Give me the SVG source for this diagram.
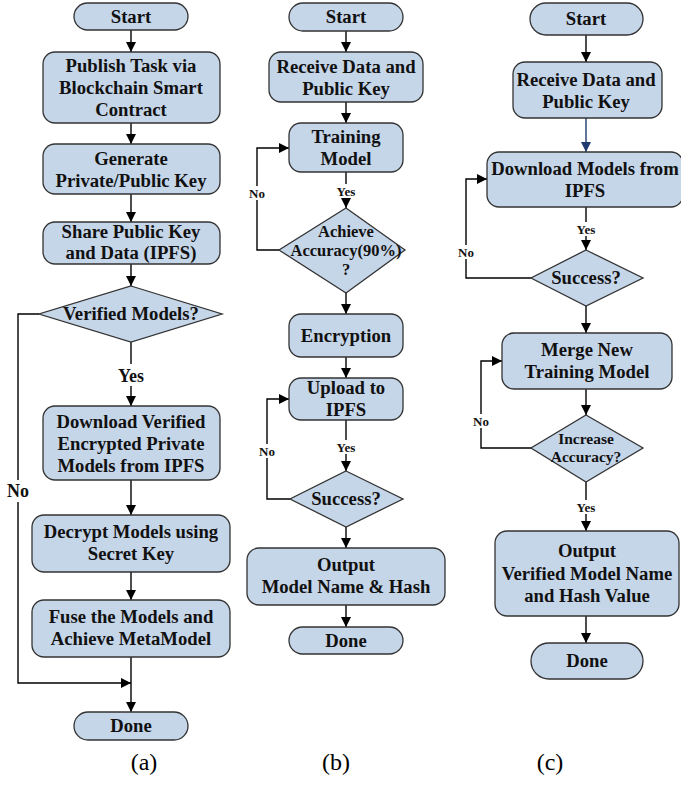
<svg xmlns="http://www.w3.org/2000/svg" width="681" height="785" viewBox="0 0 681 785">
<defs>
<marker id="ah" viewBox="0 0 10 10" refX="10" refY="5" markerWidth="10" markerHeight="10" markerUnits="userSpaceOnUse" orient="auto">
<path d="M0,0 L10,5 L0,10 z" fill="#000"/>
</marker>
<marker id="ahb" viewBox="0 0 10 10" refX="10" refY="5" markerWidth="10" markerHeight="10" markerUnits="userSpaceOnUse" orient="auto">
<path d="M0,0 L10,5 L0,10 z" fill="#1F3A6E"/>
</marker>
<style>
.n{fill:#C6D6E9;stroke:#333;stroke-width:1.3}
.t{font-family:"Liberation Serif","Times New Roman",serif;font-weight:bold;font-size:18.7px;fill:#111;text-anchor:middle}
.d{font-size:16.5px}
.s{font-size:13px}
.m{font-size:18px}
.c{fill:none;stroke:#000;stroke-width:1.4;marker-end:url(#ah)}
.cap{font-family:"Liberation Serif","Times New Roman",serif;font-size:24px;fill:#000;text-anchor:middle}
</style>
</defs>
<rect width="681" height="785" fill="#fff"/>

<g id="connectors">
<!-- (a) -->
<path class="c" d="M131,30 V52"/>
<path class="c" d="M131,123 V144"/>
<path class="c" d="M131,194 V222"/>
<path class="c" d="M131,264 V286"/>
<path class="c" d="M131,342 V406"/>
<path class="c" d="M131,480 V515"/>
<path class="c" d="M131,572 V600"/>
<path class="c" d="M131,657 V712"/>
<path class="c" d="M39,314 H18 V683 H131"/>
<!-- (b) -->
<path class="c" d="M346,31 V52"/>
<path class="c" d="M346,102 V123"/>
<path class="c" d="M346,172 V208"/>
<path class="c" d="M279,250 H257 V148 H289"/>
<path class="c" d="M346,293 V314"/>
<path class="c" d="M346,357 V378"/>
<path class="c" d="M346,420 V471"/>
<path class="c" d="M290,499 H267 V399 H289"/>
<path class="c" d="M346,527 V548"/>
<path class="c" d="M346,605 V627"/>
<!-- (c) -->
<path class="c" d="M586,35 V62"/>
<path fill="none" stroke="#1F3A6E" stroke-width="1.4" marker-end="url(#ahb)" d="M586,118 V152"/>
<path class="c" d="M586,207 V250"/>
<path class="c" d="M531,278 H466 V179 H487"/>
<path class="c" d="M586,306 V333"/>
<path class="c" d="M586,389 V415"/>
<path class="c" d="M531,448 H481 V361 H502"/>
<path class="c" d="M586,482 V531"/>
<path class="c" d="M586,616 V643"/>
</g>

<g id="labels">
<rect x="115" y="364" width="33" height="22" fill="#fff"/>
<text class="t m" x="131" y="382">Yes</text>
<rect x="5" y="480" width="27" height="22" fill="#fff"/>
<text class="t m" x="18" y="497">No</text>
<rect x="333" y="184" width="26" height="14" fill="#fff"/>
<text class="t s" x="346" y="196">Yes</text>
<rect x="247" y="186" width="21" height="14" fill="#fff"/>
<text class="t s" x="257" y="198">No</text>
<rect x="333" y="440" width="26" height="14" fill="#fff"/>
<text class="t s" x="346" y="452">Yes</text>
<rect x="257" y="444" width="21" height="14" fill="#fff"/>
<text class="t s" x="267" y="456">No</text>
<rect x="573" y="222" width="26" height="14" fill="#fff"/>
<text class="t s" x="586" y="234">Yes</text>
<rect x="456" y="245" width="21" height="14" fill="#fff"/>
<text class="t s" x="466" y="257">No</text>
<rect x="471" y="414" width="21" height="14" fill="#fff"/>
<text class="t s" x="481" y="426">No</text>
<rect x="573" y="500" width="26" height="14" fill="#fff"/>
<text class="t s" x="586" y="512">Yes</text>
</g>

<!-- column (a) -->
<g id="a-start"><rect class="n" x="74" y="3" width="114" height="27" rx="13.5"/><text class="t" x="131" y="23">Start</text></g>
<g id="a-publish"><rect class="n" x="43" y="52" width="177" height="71" rx="12"/><text class="t" x="131" y="72">Publish Task via</text><text class="t" x="131" y="94">Blockchain Smart</text><text class="t" x="131" y="116">Contract</text></g>
<g id="a-generate"><rect class="n" x="43" y="144" width="177" height="50" rx="12"/><text class="t" x="131" y="165">Generate</text><text class="t" x="131" y="187">Private/Public Key</text></g>
<g id="a-share"><rect class="n" x="43" y="222" width="177" height="42" rx="12"/><text class="t" x="131" y="238">Share Public Key</text><text class="t" x="131" y="259">and Data (IPFS)</text></g>
<g id="a-verified"><polygon class="n" points="131,286 222,314 131,342 39,314"/><text class="t" x="131" y="320">Verified Models?</text></g>
<g id="a-download"><rect class="n" x="43" y="406" width="177" height="74" rx="12"/><text class="t" x="131" y="428">Download Verified</text><text class="t" x="131" y="450">Encrypted Private</text><text class="t" x="131" y="472">Models from IPFS</text></g>
<g id="a-decrypt"><rect class="n" x="32" y="515" width="198" height="57" rx="12"/><text class="t" x="131" y="538">Decrypt Models using</text><text class="t" x="131" y="560">Secret Key</text></g>
<g id="a-fuse"><rect class="n" x="32" y="600" width="198" height="57" rx="12"/><text class="t" x="131" y="623">Fuse the Models and</text><text class="t" x="131" y="645">Achieve MetaModel</text></g>
<g id="a-done"><rect class="n" x="74" y="712" width="114" height="28" rx="14"/><text class="t" x="131" y="732">Done</text></g>

<!-- column (b) -->
<g id="b-start"><rect class="n" x="289" y="3" width="114" height="28" rx="14"/><text class="t" x="346" y="23">Start</text></g>
<g id="b-receive"><rect class="n" x="269" y="52" width="154" height="50" rx="12"/><text class="t" x="346" y="73">Receive Data and</text><text class="t" x="346" y="95">Public Key</text></g>
<g id="b-training"><rect class="n" x="289" y="123" width="114" height="49" rx="12"/><text class="t" x="346" y="143">Training</text><text class="t" x="346" y="165">Model</text></g>
<g id="b-achieve"><polygon class="n" points="346,208 405,250 346,293 279,250"/><text class="t d" x="346" y="237">Achieve</text><text class="t d" x="346" y="256">Accuracy(90%)</text><text class="t d" x="346" y="275">?</text></g>
<g id="b-encryption"><rect class="n" x="289" y="314" width="114" height="43" rx="12"/><text class="t" x="346" y="342">Encryption</text></g>
<g id="b-upload"><rect class="n" x="289" y="378" width="114" height="42" rx="12"/><text class="t" x="346" y="394">Upload to</text><text class="t" x="346" y="416">IPFS</text></g>
<g id="b-success"><polygon class="n" points="346,471 403,499 346,527 290,499"/><text class="t" x="346" y="505">Success?</text></g>
<g id="b-output"><rect class="n" x="247" y="548" width="198" height="57" rx="12"/><text class="t" x="346" y="571">Output</text><text class="t" x="346" y="593">Model Name &amp; Hash</text></g>
<g id="b-done"><rect class="n" x="289" y="627" width="114" height="27" rx="13.5"/><text class="t" x="346" y="647">Done</text></g>

<!-- column (c) -->
<g id="c-start"><rect class="n" x="530" y="3" width="113" height="32" rx="16"/><text class="t" x="586" y="25">Start</text></g>
<g id="c-receive"><rect class="n" x="513" y="62" width="149" height="56" rx="12"/><text class="t" x="586" y="86">Receive Data and</text><text class="t" x="586" y="108">Public Key</text></g>
<g id="c-download"><rect class="n" x="487" y="152" width="196" height="55" rx="12"/><text class="t" x="585" y="175">Download Models from</text><text class="t" x="585" y="197">IPFS</text></g>
<g id="c-success"><polygon class="n" points="586,250 643,278 586,306 531,278"/><text class="t" x="586" y="284">Success?</text></g>
<g id="c-merge"><rect class="n" x="502" y="333" width="170" height="56" rx="12"/><text class="t" x="587" y="356">Merge New</text><text class="t" x="587" y="378">Training Model</text></g>
<g id="c-increase"><polygon class="n" points="586,415 643,448 586,482 531,448"/><text class="t" style="font-size:15.5px" x="586" y="444">Increase</text><text class="t" style="font-size:15.5px" x="586" y="462">Accuracy?</text></g>
<g id="c-output"><rect class="n" x="495" y="531" width="184" height="85" rx="12"/><text class="t" x="587" y="557">Output</text><text class="t" x="587" y="580">Verified Model Name</text><text class="t" x="587" y="602">and Hash Value</text></g>
<g id="c-done"><rect class="n" x="531" y="643" width="112" height="36" rx="18"/><text class="t" x="587" y="667">Done</text></g>

<g id="captions">
<text class="cap" x="144" y="770">(a)</text>
<text class="cap" x="336" y="770">(b)</text>
<text class="cap" x="550" y="770">(c)</text>
</g>
</svg>
